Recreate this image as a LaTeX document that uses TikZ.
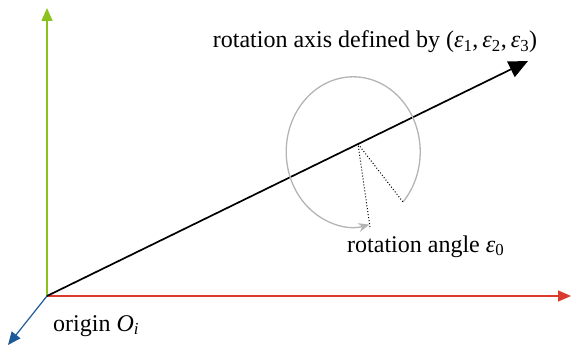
\documentclass[tikz,border=0pt]{standalone}
\usepackage{fontspec}
\setmainfont{Liberation Serif}
\usetikzlibrary{arrows.meta}
\definecolor{axgreen}{HTML}{8CC21E}
\definecolor{axred}{HTML}{DD3A2E}
\definecolor{axblue}{HTML}{1E5A9A}
\definecolor{arcgray}{HTML}{B4B4B4}
\newcommand{\myeps}[1]{\textit{ε}\textsubscript{#1}}
\begin{document}
\begin{tikzpicture}[x=1pt,y=-1pt,
  lbl/.style={font=\fontsize{24}{27}\selectfont, inner sep=0pt},
  axisline/.style={line width=1.2pt},
  tipA/.style={-{Triangle[length=13pt,width=11pt]}}]
\useasboundingbox (0,0) rectangle (571,350);
\coordinate (O) at (47,296);
\coordinate (Y) at (47,8);
\coordinate (X) at (571,296);
\coordinate (Z) at (8,345);
\coordinate (R) at (528,61);
\coordinate (P) at (358,144);
\coordinate (A1) at (370,227);
\coordinate (A2) at (403,202);
\draw[axisline, axgreen, tipA] (O) -- (Y);
\draw[axisline, axred, tipA] (O) -- (X);
\draw[axisline, axblue, tipA] (O) -- (Z);
\draw[line width=1.7pt, black, -{Triangle[length=19pt,width=17pt]}] (O) -- (R);
\draw[arcgray, line width=1.3pt, -{Stealth[length=11pt,width=9pt]}]
  (A2) arc[start angle=-42, end angle=284, x radius=67, y radius=-75];
\draw[dotted, line width=1pt] (A1) -- (P) -- (A2);
\node[lbl, anchor=base] (t1) at (375,48) {rotation axis defined by (\myeps{1},\,\myeps{2},\,\myeps{3})};
\node[lbl, anchor=base west] (t2) at (347,252) {rotation angle \myeps{0}};
\node[lbl, anchor=base west] (t3) at (53,331) {origin \textit{O}\textsubscript{\textit{i}}};
\end{tikzpicture}
\end{document}
